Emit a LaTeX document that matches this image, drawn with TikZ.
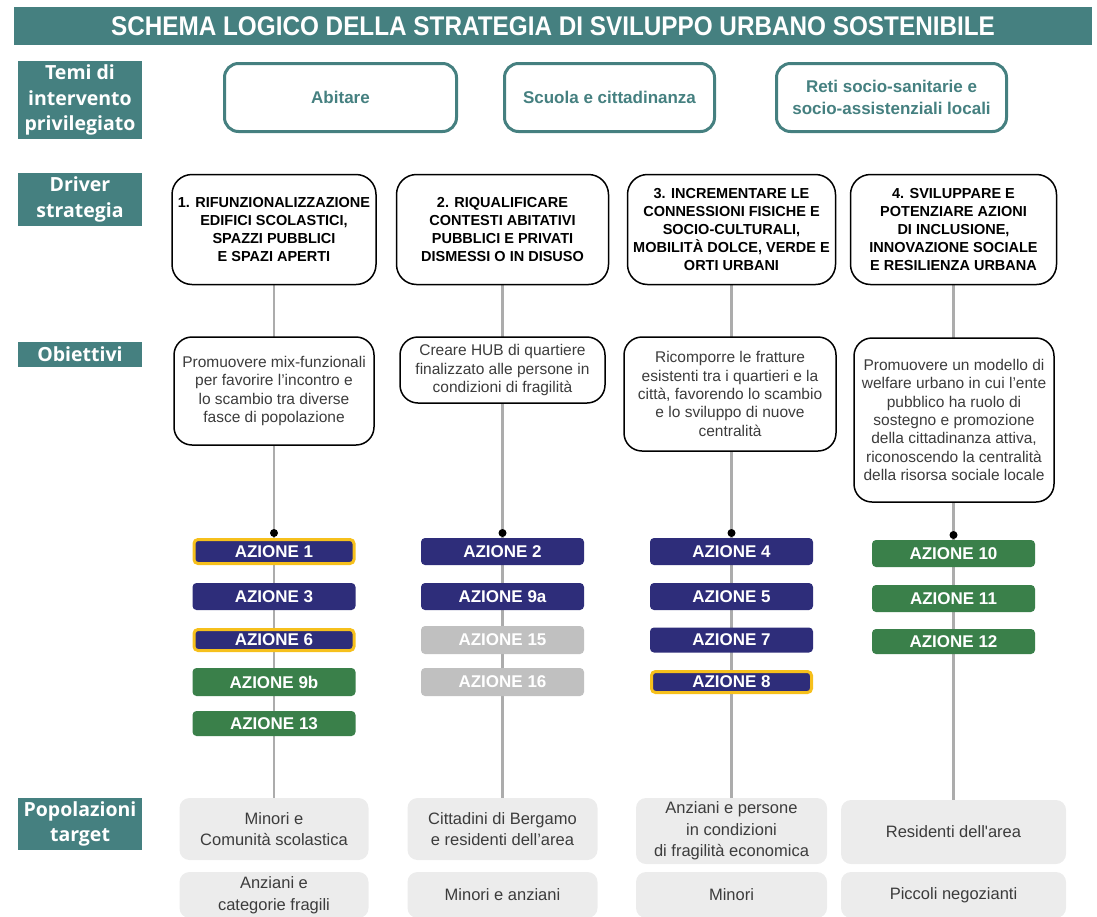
\documentclass[tikz,border=0pt]{standalone}
\usepackage{fontspec}
\setmainfont{Liberation Sans}
\newfontfamily\labelfont{Open Sans}
\newfontfamily\titlefont[FakeStretch=0.9]{Liberation Sans}
\usetikzlibrary{backgrounds}

\definecolor{tealhead}{RGB}{69,128,128}
\definecolor{navyaz}{RGB}{46,45,122}
\definecolor{greenaz}{RGB}{58,128,74}
\definecolor{grayaz}{RGB}{192,192,192}
\definecolor{goldaz}{RGB}{246,192,28}
\definecolor{popfill}{RGB}{236,236,236}
\definecolor{linegray}{RGB}{172,172,172}
\definecolor{txtgray}{RGB}{60,60,60}

\begin{document}
\begin{tikzpicture}[
    x=1pt, y=-1pt,
    titlebar/.style={fill=tealhead, text=white, inner sep=0pt,
                     minimum width=1078pt, minimum height=38pt,
                     font=\titlefont\bfseries\fontsize{27}{30}\selectfont},
    header/.style={fill=tealhead, text=white, inner sep=0pt,
                   minimum width=124pt, align=center,
                   font=\labelfont\bfseries\fontsize{19.5}{25.5}\selectfont},
    tema/.style={draw=tealhead, line width=3pt, rounded corners=14pt,
                 fill=white, minimum height=68pt, align=center,
                 text=tealhead, font=\bfseries\fontsize{17}{21.5}\selectfont},
    driver/.style={draw=black, line width=1.5pt, rounded corners=20pt,
                   fill=white, minimum height=110pt, align=center,
                   font=\bfseries\fontsize{14.5}{18}\selectfont},
    obiettivo/.style={draw=black, line width=1.5pt, rounded corners=18pt,
                      fill=white, align=center, text=txtgray,
                      font=\fontsize{15.5}{18.3}\selectfont},
    azione/.style={rounded corners=4pt, minimum width=163pt,
                   minimum height=27pt, inner sep=0pt, text=white,
                   font=\bfseries\fontsize{17}{19}\selectfont},
    blu/.style={azione, fill=navyaz},
    blugold/.style={blu, draw=goldaz, line width=3pt,
                    minimum width=160pt, minimum height=24pt},
    verde/.style={azione, fill=greenaz},
    grigio/.style={azione, fill=grayaz},
    target/.style={fill=popfill, rounded corners=10pt, align=center,
                   text=txtgray, font=\fontsize{16.5}{21.5}\selectfont},
    linea/.style={draw=linegray, line width=2.5pt},
    punto/.style={circle, fill=black, inner sep=0pt, minimum size=8pt},
]
\useasboundingbox (0,0) rectangle (1097,916);

% Titolo
\node[titlebar] (titolo) at (553,26)
    {SCHEMA LOGICO DELLA STRATEGIA DI SVILUPPO URBANO SOSTENIBILE};

% Intestazioni di riga
\node[header, minimum height=78pt] (hTemi) at (80,100) {Temi di\\intervento\\privilegiato};
\node[header, minimum height=53pt] (hDriver) at (80,199.5) {Driver\\strategia};
\node[header, minimum height=25pt] (hObiettivi) at (80,354.5) {Obiettivi};
\node[header, minimum height=52pt] (hTarget) at (80,824) {Popolazioni\\target};

% Temi di intervento
\node[tema, minimum width=232pt] (t1) at (340.5,97.5) {Abitare};
\node[tema, minimum width=210pt] (t2) at (609.5,97.5) {Scuola e cittadinanza};
\node[tema, minimum width=230pt] (t3) at (891.5,97.5) {Reti socio-sanitarie e\\socio-assistenziali locali};

% Driver strategia
\node[driver, minimum width=204pt] (d1) at (274,229.5)
    {1. RIFUNZIONALIZZAZIONE\\EDIFICI SCOLASTICI,\\SPAZZI PUBBLICI\\E SPAZI APERTI};
\node[driver, minimum width=212pt] (d2) at (502.5,229.5)
    {2. RIQUALIFICARE\\CONTESTI ABITATIVI\\PUBBLICI E PRIVATI\\DISMESSI O IN DISUSO};
\node[driver, minimum width=208pt] (d3) at (731.5,229.5)
    {3. INCREMENTARE LE\\CONNESSIONI FISICHE E\\SOCIO-CULTURALI,\\MOBILITÀ DOLCE, VERDE E\\ORTI URBANI};
\node[driver, minimum width=206pt] (d4) at (953.5,229.5)
    {4. SVILUPPARE E\\POTENZIARE AZIONI\\DI INCLUSIONE,\\INNOVAZIONE SOCIALE\\E RESILIENZA URBANA};

% Obiettivi
\node[obiettivo, minimum width=200pt, minimum height=108pt] (o1) at (274,391)
    {Promuovere mix-funzionali\\per favorire l’incontro e\\lo scambio tra diverse\\fasce di popolazione};
\node[obiettivo, minimum width=205pt, minimum height=66pt] (o2) at (502.5,370)
    {Creare HUB di quartiere\\finalizzato alle persone in\\condizioni di fragilità};
\node[obiettivo, minimum width=212pt, minimum height=114pt] (o3) at (730,394)
    {Ricomporre le fratture\\esistenti tra i quartieri e la\\città, favorendo lo scambio\\e lo sviluppo di nuove\\centralità};
\node[obiettivo, minimum width=200pt, minimum height=164pt] (o4) at (954,420)
    {Promuovere un modello di\\welfare urbano in cui l’ente\\pubblico ha ruolo di\\sostegno e promozione\\della cittadinanza attiva,\\riconoscendo la centralità\\della risorsa sociale locale};

% Popolazioni target
\node[target, minimum width=189pt, minimum height=62pt] (pa1) at (274,829) {Minori e\\Comunità scolastica};
\node[target, minimum width=190pt, minimum height=62pt] (pa2) at (502.5,829) {Cittadini di Bergamo\\e residenti dell’area};
\node[target, minimum width=191pt, minimum height=66pt] (pa3) at (731.5,831) {Anziani e persone\\in condizioni\\di fragilità economica};
\node[target, minimum width=225pt, minimum height=64pt] (pa4) at (953.5,832) {Residenti dell\textquotesingle area};
\node[target, minimum width=189pt, minimum height=46pt] (pb1) at (274,895) {Anziani e\\categorie fragili};
\node[target, minimum width=190pt, minimum height=46pt] (pb2) at (502.5,895) {Minori e anziani};
\node[target, minimum width=191pt, minimum height=46pt] (pb3) at (731.5,895) {Minori};
\node[target, minimum width=225pt, minimum height=46pt] (pb4) at (953.5,895) {Piccoli negozianti};

% Azioni
\node[blugold] (a1) at (274,551.5) {AZIONE 1};
\node[blu] (a3) at (274,596.5) {AZIONE 3};
\node[blugold, minimum height=21pt] (a6) at (274,640) {AZIONE 6};
\node[verde, minimum height=28pt] (a9b) at (274,682) {AZIONE 9b};
\node[verde, minimum height=25pt] (a13) at (274,723.5) {AZIONE 13};

\node[blu] (a2) at (502.5,551.5) {AZIONE 2};
\node[blu] (a9a) at (502.5,596.5) {AZIONE 9a};
\node[grigio, minimum height=28pt] (a15) at (502.5,640) {AZIONE 15};
\node[grigio, minimum height=28pt] (a16) at (502.5,682) {AZIONE 16};

\node[blu] (a4) at (731.5,551.5) {AZIONE 4};
\node[blu] (a5) at (731.5,596.5) {AZIONE 5};
\node[blu, minimum height=25pt] (a7) at (731.5,640) {AZIONE 7};
\node[blugold, minimum height=21pt] (a8) at (731.5,682) {AZIONE 8};

\node[verde] (a10) at (953.5,553.5) {AZIONE 10};
\node[verde] (a11) at (953.5,598.5) {AZIONE 11};
\node[verde, minimum height=25pt] (a12) at (953.5,641.5) {AZIONE 12};

% Punti di raccordo
\node[punto] (k1) at (274,533) {};
\node[punto] (k2) at (502.5,533) {};
\node[punto] (k3) at (731.5,533) {};
\node[punto] (k4) at (953.5,535) {};

% Collegamenti verticali
\begin{pgfonlayer}{background}
\foreach \i in {1,...,4} {
    \draw[linea] (d\i) -- (pa\i);
}
\end{pgfonlayer}

\end{tikzpicture}
\end{document}
